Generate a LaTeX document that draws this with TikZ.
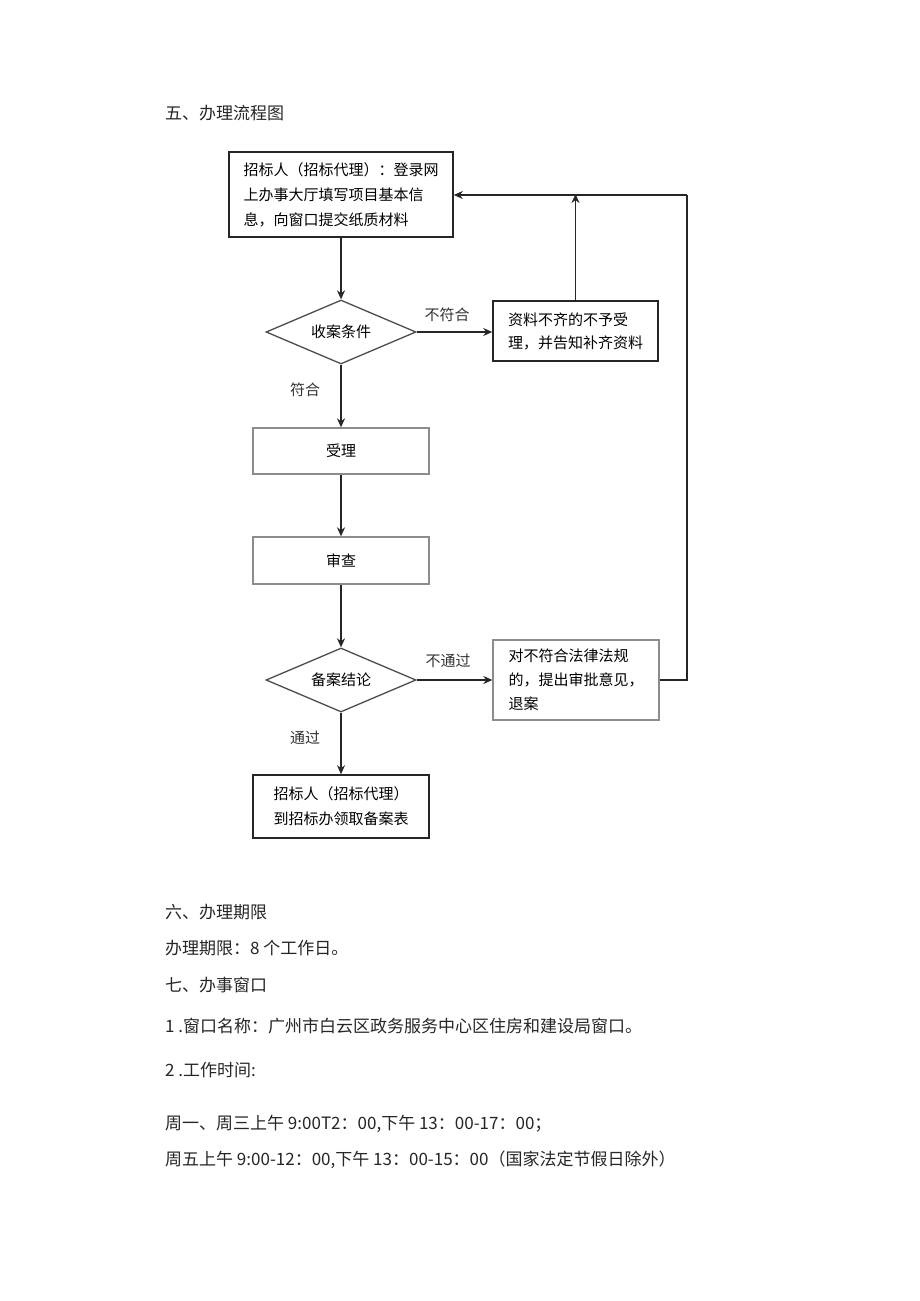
\documentclass[tikz,border=0pt]{standalone}
\usepackage{fontspec}
\setmainfont{Noto Sans CJK SC}
\usetikzlibrary{shapes.geometric,arrows.meta}
\begin{document}
\begin{tikzpicture}[x=1pt,y=-1pt,
  darkbox/.style={draw=black!85,line width=1.6pt,rectangle,inner sep=0pt,font=\fontsize{15}{25}\selectfont},
  graybox/.style={draw=black!45,line width=1.3pt,rectangle,inner sep=0pt,font=\fontsize{15}{24}\selectfont},
  dia/.style={draw=black!70,line width=1.3pt,diamond,aspect=2.3,inner sep=0pt,minimum width=150pt,minimum height=64pt,font=\fontsize{15}{18}\selectfont},
  conn/.style={draw=black!85,line width=1.8pt},
  arr/.style={conn,-{Stealth[length=9pt,width=8pt]}},
  lbl/.style={font=\fontsize{15}{18}\selectfont,inner sep=0pt,text=black!80},
  body/.style={font=\fontsize{17}{20}\selectfont,anchor=west,inner sep=0pt,text=black!85}
]
\useasboundingbox (0,0) rectangle (920,1301);
\fill[white] (0,0) rectangle (920,1301);

\node[body] (t0) at (165,113) {五、办理流程图};

\node[darkbox,minimum width=224pt,minimum height=85pt,align=left] (b1) at (341,194.5)
  {招标人（招标代理）：登录网\\上办事大厅填写项目基本信\\息，向窗口提交纸质材料};
\node[dia] (d1) at (341,332) {收案条件};
\node[darkbox,minimum width=165pt,minimum height=60pt,align=left,font=\fontsize{15}{23}\selectfont] (b2) at (575.5,331)
  {资料不齐的不予受\\理，并告知补齐资料};
\node[graybox,minimum width=176pt,minimum height=46pt] (b3) at (341,451) {受理};
\node[graybox,minimum width=176pt,minimum height=47pt] (b4) at (341,560.5) {审查};
\node[dia] (d2) at (341,680) {备案结论};
\node[graybox,minimum width=166pt,minimum height=80pt,align=left] (b5) at (576,680)
  {对不符合法律法规\\的，提出审批意见，\\退案};
\node[darkbox,minimum width=176pt,minimum height=63pt,align=left] (b6) at (341,806.5)
  {招标人（招标代理）\\到招标办领取备案表};

\node[lbl] (l1) at (447,315) {不符合};
\node[lbl] (l2) at (305,390) {符合};
\node[lbl] (l3) at (448,661) {不通过};
\node[lbl] (l4) at (305,738) {通过};

\coordinate (ct) at (687,195);
\coordinate (cr) at (687,680);

\draw[arr] (b1.south) -- (d1.north);
\draw[arr] (d1.east) -- (d1.east -| b2.west);
\draw[arr] (d1.south) -- (b3.north);
\draw[arr] (b3.south) -- (b4.north);
\draw[arr] (b4.south) -- (d2.north);
\draw[arr] (d2.east) -- (b5.west);
\draw[arr] (d2.south) -- (b6.north);
\draw[arr] (b2.north) -- ([yshift=1pt]b2.north |- ct);
\draw[conn] (b5.east) -- (cr) -- (ct);
\draw[arr] (ct) -- (b1.east |- ct);

\node[body] (t1) at (165,912) {六、办理期限};
\node[body] (t2) at (165,948) {办理期限：8 个工作日。};
\node[body] (t3) at (165,985) {七、办事窗口};
\node[body] (t4) at (165,1026) {1 .窗口名称：广州市白云区政务服务中心区住房和建设局窗口。};
\node[body] (t5) at (165,1070) {2 .工作时间:};
\node[body] (t6) at (165,1124) {周一、周三上午 9:00T2：00,下午 13：00-17：00；};
\node[body] (t7) at (165,1160) {周五上午 9:00-12：00,下午 13：00-15：00（国家法定节假日除外）};
\end{tikzpicture}
\end{document}
